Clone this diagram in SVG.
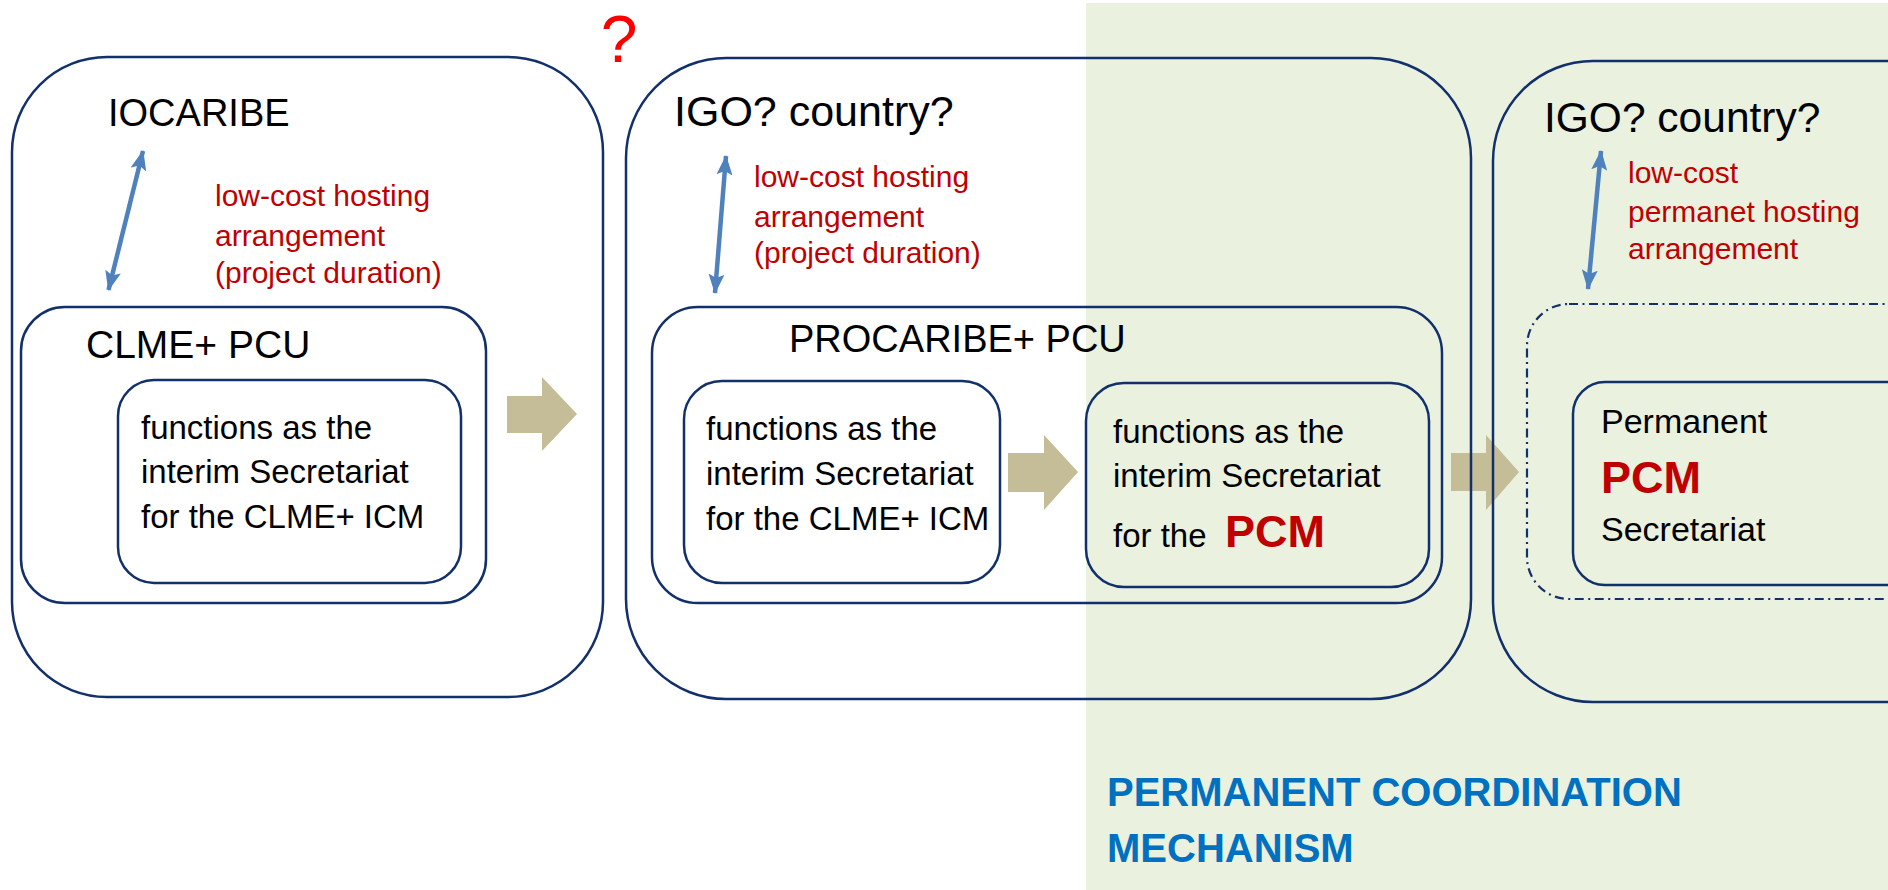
<svg xmlns="http://www.w3.org/2000/svg" width="1888" height="890" viewBox="0 0 1888 890">
<defs>
<style>
.box{fill:none;stroke:#12306C;stroke-width:2.5}
.dash{fill:none;stroke:#12306C;stroke-width:2.2;stroke-dasharray:9 4.5 2 4.5}
.t{font-family:"Liberation Sans",Arial,sans-serif;fill:#000}
.r{font-family:"Liberation Sans",Arial,sans-serif;fill:#C00000;font-size:30px}
.b{font-family:"Liberation Sans",Arial,sans-serif;font-size:33px;fill:#000}
.pcm{font-weight:bold;fill:#C00000;font-size:45px}
.blk{fill:#C4BD97}
.link{stroke:#4F81BD;stroke-width:4.5;fill:none;marker-start:url(#ah);marker-end:url(#ah)}
</style>
<marker id="ah" viewBox="0 0 20 16" refX="19" refY="8" markerWidth="20" markerHeight="16" markerUnits="userSpaceOnUse" orient="auto-start-reverse">
<path d="M0,0 L20,8 L0,16 L4,8 z" fill="#4F81BD"/>
</marker>
</defs>
<rect x="0" y="0" width="1888" height="890" fill="#fff"/>
<rect id="pcm-zone" x="1086" y="3" width="802" height="887" fill="#EAF1DE"/>

<g id="flow-arrows">
<path class="blk" d="M507,396 H542 V377 L577,414 L542,451 V433 H507 Z"/>
<path class="blk" d="M1008,453 H1044 V435 L1078,472 L1044,510 V492 H1008 Z"/>
<path class="blk" d="M1451,453 H1486 V435 L1519,472 L1486,510 V491 H1451 Z"/>
</g>

<g id="stage1">
<rect class="box" x="12" y="57" width="591" height="640" rx="95" ry="95"/>
<text class="t" x="108" y="126" font-size="38">IOCARIBE</text>
<text class="r" x="215"><tspan x="215" y="206">low-cost hosting</tspan><tspan x="215" y="246">arrangement</tspan><tspan x="215" y="283">(project duration)</tspan></text>
</g>
<g id="clme-pcu">
<rect class="box" x="21" y="307" width="465" height="296" rx="44" ry="44"/>
<text class="t" x="86" y="358" font-size="39">CLME+ PCU</text>
</g>
<g id="clme-secretariat">
<rect class="box" x="118" y="380" width="343" height="203" rx="36" ry="36"/>
<text class="b"><tspan x="141" y="439">functions as the</tspan><tspan x="141" y="483">interim Secretariat</tspan><tspan x="141" y="528">for the CLME+ ICM</tspan></text>
</g>

<text id="question" x="619" y="62" text-anchor="middle" font-family="Liberation Sans,Arial,sans-serif" font-size="66" fill="#FF0000">?</text>

<g id="stage2">
<rect class="box" x="626" y="58" width="845" height="641" rx="100" ry="100"/>
<text class="t" x="674" y="126" font-size="43">IGO? country?</text>
<text class="r"><tspan x="754" y="187">low-cost hosting</tspan><tspan x="754" y="227">arrangement</tspan><tspan x="754" y="263">(project duration)</tspan></text>
</g>
<g id="procaribe-pcu">
<rect class="box" x="652" y="307" width="790" height="296" rx="46" ry="46"/>
<text class="t" x="789" y="352" font-size="38">PROCARIBE+ PCU</text>
</g>
<g id="procaribe-icm">
<rect class="box" x="684" y="381" width="316" height="202" rx="38" ry="38"/>
<text class="b"><tspan x="706" y="440">functions as the</tspan><tspan x="706" y="485">interim Secretariat</tspan><tspan x="706" y="530">for the CLME+ ICM</tspan></text>
</g>
<g id="procaribe-pcm">
<rect class="box" x="1086" y="383" width="343" height="204" rx="38" ry="38"/>
<text class="b"><tspan x="1113" y="443">functions as the</tspan><tspan x="1113" y="487">interim Secretariat</tspan><tspan x="1113" y="547">for the </tspan><tspan x="1225" y="547" class="pcm">PCM</tspan></text>
</g>

<g id="stage3">
<rect class="box" x="1493" y="61" width="600" height="641" rx="100" ry="100"/>
<text class="t" x="1544" y="132" font-size="42.5">IGO? country?</text>
<text class="r"><tspan x="1628" y="183">low-cost</tspan><tspan x="1628" y="222">permanet hosting</tspan><tspan x="1628" y="259">arrangement</tspan></text>
</g>
<g id="future-unit">
<rect class="dash" x="1527" y="304" width="500" height="295" rx="42" ry="42"/>
</g>
<g id="permanent-secretariat">
<rect class="box" x="1573" y="382" width="450" height="203" rx="32" ry="32"/>
<text class="b" font-size="34"><tspan x="1601" y="433" font-size="34">Permanent</tspan><tspan x="1601" y="493" class="pcm">PCM</tspan><tspan x="1601" y="541" font-size="34">Secretariat</tspan></text>
</g>

<g id="connectors">
<line class="link" x1="108.5" y1="290" x2="143" y2="151"/>
<line class="link" x1="715" y1="293" x2="726" y2="156"/>
<line class="link" x1="1588" y1="289" x2="1601" y2="151"/>
</g>

<text id="pcm-label" font-family="Liberation Sans,Arial,sans-serif" font-weight="bold" font-size="40" fill="#0070C0"><tspan x="1107" y="806">PERMANENT COORDINATION</tspan><tspan x="1107" y="862">MECHANISM</tspan></text>
</svg>
